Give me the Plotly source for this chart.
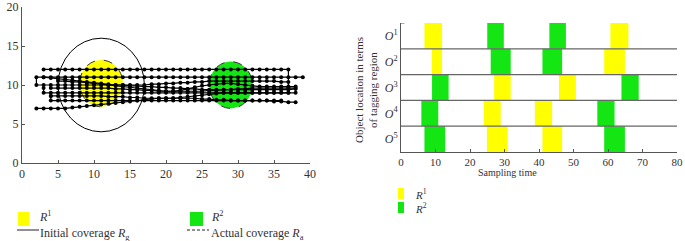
import plotly.graph_objects as go

# ---------------- data: left panel (trajectories) ----------------
traj1_x = [3,4,5,6,7,8,9,10,11,12,13,14,15,16,17,18,19,20,21,22,23,24,25,26,27,28,29,30,31,32,33,34,35,36,37,37]
traj1_y = [12,12,12,12,12,12,12,12,12,12,12,12,12,12,12,12,12,12,12,12,12,12,12,12,12,12,12,12,12,12,12,12,12,12,12,9.6]

traj2_x = [39,38,37,36,35,34,33,32,31,30,29,28,27,26,25,24,23,22,21,20,19,18,17,16,15,14,13,12,11,10,9,8,7,6,5,4,3,2,
           2,3,4,5,6,7,8,9,10,11,12,13,14,15,16,17,18,19,20,21,22,23,24,25,26,27,28,29,30,31,32,33,34,35,36,37]
traj2_y = [11,11,11,11,11,11,11,11,11,11,11,11,11,11,11,11,11,11,11,11,11,11,11,11,11,11,11,11,11,11,11,11,11,11,11,11,11,11,
           10,10,10,10,10,10,10,10,10,10,10,10,10,10,10,10,10.1,10.1,10.2,10.2,10.3,10.3,10.4,10.4,10.5,10.5,10.5,10.5,10.5,10.5,
           10.5,10.5,10.5,10.5,10.4,10.4]

traj3_x = [3,4,5,6,7,8,9,10,11,12,13,14,15,16,17,18,19,20,21,22,23,24,25,26,27,28,29,30,31,32,33,34,35,36,37,38]
traj3_y = [11,10.9,10.8,10.7,10.6,10.5,10.4,10.3,10.2,10.1,10,10,9.9,9.9,9.8,9.8,9.7,9.7,9.6,9.6,
           9.5,9.5,9.4,9.4,9.4,9.4,9.4,9.4,9.4,9.4,9.4,9.4,9.4,9.4,9.4,9.5]

traj4_x = [4,5,6,7,8,9,10,11,12,13,14,15,16,17,18,19,20,21,22,23,24,25,26,27,28,29,30,31,32,33,34,35,36,37,38]
traj4_y = [9.6,9.6,9.6,9.6,9.6,9.6,9.6,9.6,9.6,9.5,9.5,9.4,9.4,9.3,9.3,9.2,9.2,9.2,9.2,9.2,
           9.2,9.2,9.3,9.3,9.4,9.4,9.5,9.5,9.6,9.6,9.6,9.6,9.6,9.6,9.6]

traj5_x = [3,3,4,5,6,7,8,9,10,11,12,13,14,15,16,17,18,19,20,21,22,23,24,25,26,27,28,29,30,31,32,33,34,35,36,37]
traj5_y = [9.6,9,9,9,9,9,9,9,9,9,9,9,9,9,9,9,9,9,9,9,9,9,9,9,9,9,9,9,9,9,9,9,9,9,9,9]

traj6_x = [4,5,6,7,8,9,10,11,12,13,14,15,16,17,18,19,20,21,22,23,24,25,26,27,28,29,30,31,32,33,34,35,36,37,38]
traj6_y = [8.6,8.6,8.6,8.6,8.6,8.6,8.6,8.6,8.5,8.5,8.5,8.4,8.4,8.3,8.3,8.3,8.3,8.3,8.4,8.5,
           8.6,8.7,8.8,8.9,9,9,9,9,9,9,9,9,9,9,9]

traj7_x = [4,4,5,6,7,8,9,10,11,12,13,14,15,16,17,18,19,20,21,22,23,24,25,26,27,28,29,30,31,32,33,34,35,36]
traj7_y = [8.6,8,8,8,8,8,8,8,8,8,8,8,8,8,8,8,8,8,8,8,8,8,8,8,8,8,8,8,8,8,8,8,8,8]

traj8_x = [2,3,4,5,6,7,8,9,10,11,12,13,14,15,16,17,18,19,20,21,22,23,24,25,26,27,28,29,30,31,32,33,34,35,36,37,38]
traj8_y = [7,7,7,7,7,7.1,7.2,7.3,7.4,7.5,7.6,7.7,7.8,7.9,8,8.1,8.2,8.3,8.3,8.3,
           8.3,8.3,8.3,8.2,8.2,8.1,8.1,8,8,8,8,8,8,7.9,7.9,7.8,7.8]

traj9_x = [5,6,7,8,9,10,11,12,13,14,15,16,17,18,19,20,21,22,23,24,25,26,27,28,29,30,31,32,33,34,35,36,37,38]
traj9_y = [10.5,10.5,10.4,10.4,10.3,10.2,10.1,10,9.9,9.8,9.7,9.6,9.5,9.4,9.3,9.2,9.2,9.3,9.5,9.7,
           9.9,10,10.1,10.2,10.2,10.1,10,9.9,9.8,9.8,9.8,9.8,9.8,9.8]

trajectories = [(traj1_x, traj1_y), (traj2_x, traj2_y), (traj3_x, traj3_y), (traj4_x, traj4_y),
                (traj5_x, traj5_y), (traj6_x, traj6_y), (traj7_x, traj7_y), (traj8_x, traj8_y),
                (traj9_x, traj9_y)]

# coverage regions: centre x, centre y, radius
initial_cov = [11, 10, 6]
r1_actual = [11, 10.2, 3]
r2_actual = [29, 10, 3]

left_xticks = [0, 5, 10, 15, 20, 25, 30, 35, 40]
left_yticks = [0, 5, 10, 15, 20]

# ---------------- data: right panel (sampling timeline) ----------------
objects = ["O1", "O2", "O3", "O4", "O5"]
object_labels = ["<i>O</i><sup>1</sup>", "<i>O</i><sup>2</sup>", "<i>O</i><sup>3</sup>",
                 "<i>O</i><sup>4</sup>", "<i>O</i><sup>5</sup>"]
seg_object = [1, 1, 1, 1, 2, 2, 2, 2, 3, 3, 3, 3, 4, 4, 4, 4, 5, 5, 5, 5]
seg_start = [6.8, 25, 43, 60.7, 8.9, 26, 41, 58.9, 9, 27, 45.8, 63.9, 5.9, 24, 38.8, 56.9, 6.8, 24.9, 41, 58.9]
seg_end = [11.9, 29.8, 47.8, 65.9, 11.9, 31.8, 46.7, 64.9, 13.8, 31.8, 50.7, 68.9, 10.8, 28.9, 43.8, 61.9, 12.8, 30.9, 46.7, 64.9]
seg_region = [1, 2, 2, 1, 1, 2, 2, 1, 2, 1, 1, 2, 2, 1, 1, 2, 2, 1, 1, 2]
right_xticks = [0, 10, 20, 30, 40, 50, 60, 70, 80]

YELLOW = "#ffff00"
GREEN = "#14e614"
FONT = "Liberation Serif"
TXT = "#333"
W, H = 685, 241

def px(x):
    return x / W

def py(y):
    return 1 - y / H

fig = go.Figure()

# trajectories
for tx, ty in trajectories:
    fig.add_trace(go.Scatter(x=tx, y=ty, mode="lines+markers",
                             line=dict(color="black", width=1.2),
                             marker=dict(color="black", size=4),
                             xaxis="x", yaxis="y", showlegend=False, hoverinfo="skip"))

# coverage circles (data coordinates)
def circ(c, **kw):
    return dict(type="circle", xref="x", yref="y",
                x0=c[0] - c[2], x1=c[0] + c[2], y0=c[1] - c[2], y1=c[1] + c[2], layer="below", **kw)

fig.add_shape(circ(initial_cov, line=dict(color="black", width=1)))
fig.add_shape(circ(r1_actual, fillcolor=YELLOW, line=dict(color="#333", width=1, dash="dash")))
fig.add_shape(circ(r2_actual, fillcolor=GREEN, line=dict(color="#333", width=1, dash="dash")))

# timeline bars
for reg, col, name in [(1, YELLOW, "R1"), (2, GREEN, "R2")]:
    ys, bases, lens = [], [], []
    for o, s, e, r in zip(seg_object, seg_start, seg_end, seg_region):
        if r == reg:
            ys.append(5.5 - o)
            bases.append(s)
            lens.append(e - s)
    fig.add_trace(go.Bar(orientation="h", y=ys, x=lens, base=bases, width=1,
                         marker=dict(color=col, line=dict(width=0)),
                         xaxis="x2", yaxis="y2", showlegend=False, name=name, hoverinfo="skip"))

# row separators
for k in range(1, len(objects)):
    fig.add_shape(type="line", xref="x2", yref="y2", x0=0, x1=80, y0=k, y1=k,
                  line=dict(color="#666", width=1.2))

def axis_common(size):
    return dict(showline=True, linecolor="#555", linewidth=1, showgrid=False, zeroline=False,
                ticks="inside", ticklen=3, tickcolor="#555", automargin=False,
                tickfont=dict(family=FONT, size=size, color=TXT))

fig.update_layout(
    width=W, height=H, margin=dict(l=0, r=0, t=0, b=0, autoexpand=False),
    paper_bgcolor="white", plot_bgcolor="white", barmode="overlay",
    xaxis=dict(domain=[px(22), px(310)], range=[0, 40], tickvals=left_xticks, anchor="y", **axis_common(12)),
    yaxis=dict(domain=[py(163), py(7)], range=[0, 20], tickvals=left_yticks, anchor="x", **axis_common(12)),
    xaxis2=dict(domain=[px(401), px(677)], range=[0, 80], tickvals=right_xticks, anchor="y2", **axis_common(11)),
    yaxis2=dict(domain=[py(152), py(23)], range=[0, 5], anchor="x2",
                tickvals=[4.5, 3.5, 2.5, 1.5, 0.5], ticktext=object_labels, automargin=False,
                showline=True, linecolor="#555", linewidth=1, showgrid=False, zeroline=False,
                ticks="", tickfont=dict(family=FONT, size=12, color=TXT)),
)

# small tick at top of the timeline's y axis
fig.add_shape(type="line", xref="x2", yref="y2", x0=0, x1=1, y0=5, y1=5,
              line=dict(color="#555", width=1))

# right panel axis titles
fig.add_annotation(text="Object location in terms<br>of tagging region", xref="paper", yref="paper",
                   x=px(366), y=py(90), textangle=-90, showarrow=False,
                   font=dict(family=FONT, size=11, color=TXT))
fig.add_annotation(text="Sampling time", xref="paper", yref="paper", x=px(539), y=py(180),
                   showarrow=False, font=dict(family=FONT, size=10, color=TXT))

def label(text, x, y, size, yanchor="middle"):
    fig.add_annotation(text=text, xref="paper", yref="paper", x=px(x), y=py(y), xanchor="left",
                       yanchor=yanchor, showarrow=False, borderpad=0,
                       font=dict(family=FONT, size=size, color=TXT))

# left legend
fig.add_shape(type="rect", xref="paper", yref="paper", x0=px(18), x1=px(29), y0=py(226), y1=py(212),
              fillcolor=YELLOW, line=dict(width=0))
label("<i>R</i><sup>1</sup>", 38, 225, 12, "bottom")
fig.add_shape(type="rect", xref="paper", yref="paper", x0=px(190), x1=px(203), y0=py(226), y1=py(212),
              fillcolor=GREEN, line=dict(width=0))
label("<i>R</i><sup>2</sup>", 210, 225, 12, "bottom")
fig.add_shape(type="line", xref="paper", yref="paper", x0=px(17), x1=px(39), y0=py(230), y1=py(230),
              line=dict(color="#222", width=1))
label("Initial coverage <i>R</i><sub>g</sub>", 39, 225, 12, "top")
fig.add_shape(type="line", xref="paper", yref="paper", x0=px(187), x1=px(209), y0=py(230), y1=py(230),
              line=dict(color="#222", width=1, dash="3px,2px"))
label("Actual coverage <i>R</i><sub>a</sub>", 210, 225, 12, "top")

# right legend
fig.add_shape(type="rect", xref="paper", yref="paper", x0=px(398), x1=px(404), y0=py(199), y1=py(188),
              fillcolor=YELLOW, line=dict(width=0))
fig.add_shape(type="rect", xref="paper", yref="paper", x0=px(398), x1=px(404), y0=py(213), y1=py(202),
              fillcolor=GREEN, line=dict(width=0))
label("<i>R</i><sup>1</sup>", 414, 194, 11)
label("<i>R</i><sup>2</sup>", 414, 208, 11)

fig.write_html("out.html", config={"displayModeBar": False},
               post_script="document.body.style.margin='0';document.body.style.overflow='hidden';")
